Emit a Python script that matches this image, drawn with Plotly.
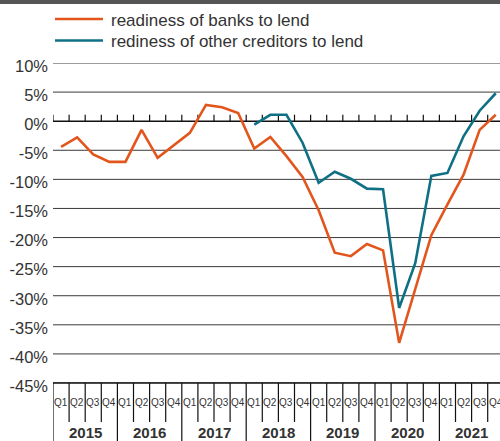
import plotly.graph_objects as go

# Quarterly survey balances, % (Q1 2015 .. Q4 2021)
years = ["2015", "2016", "2017", "2018", "2019", "2020", "2021"]
quarters = ["Q1", "Q2", "Q3", "Q4"]

banks = [-4.4, -2.8, -5.7, -7.0,
         -7.0, -1.5, -6.3, -4.2,
         -2.0, 2.8, 2.4, 1.4,
         -4.7, -2.7, -6.0, -9.6,
         -15.3, -22.6, -23.2, -21.1,
         -22.2, -38.1, -28.9, -19.6,
         -14.3, -9.2, -1.5, 1.1]

others = [None, None, None, None,
          None, None, None, None,
          None, None, None, None,
          -0.6, 1.1, 1.1, -3.7,
          -10.6, -8.7, -9.9, -11.6,
          -11.7, -32.1, -24.4, -9.4,
          -8.9, -2.6, 1.8, 4.8]

series_names = ["readiness of banks to lend", "rediness of other creditors to lend"]
series_colors = ["#E2561E", "#0F7085"]

y_ticks = [10, 5, 0, -5, -10, -15, -20, -25, -30, -35, -40, -45]
y_ticktext = [f"{v}%" for v in y_ticks]

# Page geometry (pixels)
W, H = 500, 441
ML, MR, MT, MB = 53, 0, 63, 58
PW, PH = W - ML - MR, H - MT - MB
QW = 16.1  # width of one quarter in pixels

n = len(years) * len(quarters)
xs = list(range(n))
text_col = "#333333"
font_family = "Liberation Sans, Arial, sans-serif"


def px_x(p):
    return (p - ML) / PW


def px_y(p):
    return (MT + PH - p) / PH


fig = go.Figure()
for vals, name, col in zip([banks, others], series_names, series_colors):
    fig.add_trace(go.Scatter(x=xs, y=vals, mode="lines", name=name,
                             line=dict(color=col, width=2.6),
                             connectgaps=False, showlegend=False,
                             cliponaxis=False))

shapes = []
# horizontal grid lines
for v in y_ticks:
    if v == 0:
        continue
    shapes.append(dict(type="line", xref="paper", yref="y", x0=0, x1=1, y0=v, y1=v,
                       line=dict(color="#3a3a3a", width=1), layer="below"))
# zero line with upward quarter ticks
shapes.append(dict(type="line", xref="paper", yref="y", x0=0, x1=1, y0=0, y1=0,
                   line=dict(color="#111111", width=1.6), layer="below"))
for i in range(n + 1):
    shapes.append(dict(type="line", xref="x", yref="y", ysizemode="pixel", yanchor=0,
                       x0=i - 0.5, x1=i - 0.5, y0=0, y1=6.5,
                       line=dict(color="#111111", width=1.2), layer="below"))
# category axis below the plot: quarter separators and year separators
for i in range(n + 1):
    depth = H if i % 4 == 0 else 422
    shapes.append(dict(type="line", xref="x", yref="paper",
                       x0=i - 0.5, x1=i - 0.5, y0=0, y1=px_y(depth),
                       line=dict(color="#111111", width=1.2)))
shapes.append(dict(type="line", xref="paper", yref="paper", x0=0, x1=1, y0=0, y1=0,
                   line=dict(color="#111111", width=1.6)))
# dark band at the top of the page
shapes.append(dict(type="rect", xref="paper", yref="paper",
                   x0=px_x(0), x1=px_x(W), y0=px_y(0), y1=px_y(4),
                   fillcolor="#555555", line=dict(width=0)))
# legend keys
for k, (name, col) in enumerate(zip(series_names, series_colors)):
    yy = 19 + k * 21.5
    shapes.append(dict(type="line", xref="paper", yref="paper",
                       x0=px_x(55), x1=px_x(103), y0=px_y(yy), y1=px_y(yy),
                       line=dict(color=col, width=2.6)))

annotations = []
for k, name in enumerate(series_names):
    yy = 20.5 + k * 21.5
    annotations.append(dict(xref="paper", yref="paper", x=px_x(109), y=px_y(yy),
                            text=name, showarrow=False, xanchor="left", yanchor="middle",
                            font=dict(size=17, color=text_col, family=font_family)))
for i in range(n):
    annotations.append(dict(xref="x", yref="paper", x=i, y=px_y(402),
                            text=quarters[i % 4], showarrow=False,
                            xanchor="center", yanchor="middle",
                            font=dict(size=10, color=text_col, family=font_family)))
for j, yr in enumerate(years):
    annotations.append(dict(xref="x", yref="paper", x=j * 4 + 1.5, y=px_y(432.5),
                            text=f"<b>{yr}</b>", showarrow=False,
                            xanchor="center", yanchor="middle",
                            font=dict(size=15, color=text_col, family=font_family)))

fig.update_layout(
    width=W, height=H,
    margin=dict(l=ML, r=MR, t=MT, b=MB, pad=0),
    paper_bgcolor="white", plot_bgcolor="white",
    showlegend=False,
    xaxis=dict(range=[-0.5, -0.5 + PW / QW], showgrid=False, zeroline=False,
               showticklabels=False, ticks="", showline=False, fixedrange=True),
    yaxis=dict(range=[-45, 10], tickvals=y_ticks, ticktext=y_ticktext,
               showgrid=False, zeroline=False, showline=False, ticks="",
               ticklabelshift=3, ticklabelstandoff=4,
               tickfont=dict(size=16.5, color=text_col, family=font_family),
               fixedrange=True),
    shapes=shapes,
    annotations=annotations,
)

fig.write_html("out.html")
